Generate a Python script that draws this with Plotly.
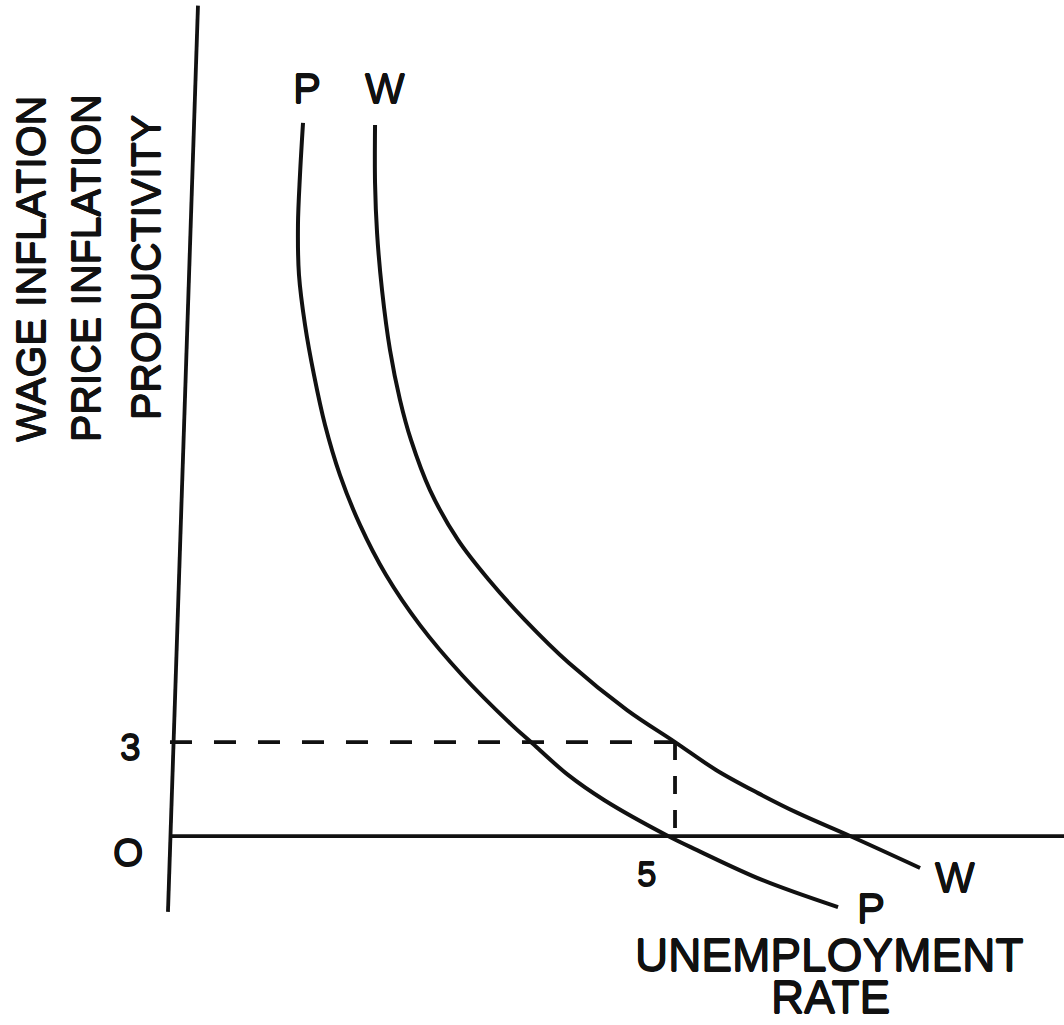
import plotly.graph_objects as go

# ---- data (unemployment rate %, inflation %) ----
p_x = [1.317, 1.287, 1.267, 1.277, 1.337, 1.426, 1.535, 1.683, 1.881, 2.139, 2.475, 2.891, 3.386, 3.584, 3.941, 4.297, 4.931, 5.218, 5.861, 6.614]
p_y = [22.76, 21.10, 19.50, 17.91, 16.31, 14.71, 13.12, 11.52, 9.93, 8.33, 6.73, 5.14, 3.54, 2.97, 1.95, 1.15, 0.00, -0.45, -1.40, -2.27]

w_x = [2.030, 2.030, 2.050, 2.099, 2.178, 2.277, 2.386, 2.574, 2.851, 3.158, 3.515, 3.950, 4.525, 5.000, 5.406, 5.822, 6.218, 6.733, 7.426]
w_y = [22.69, 20.84, 19.25, 17.43, 15.51, 13.92, 12.64, 11.04, 9.45, 8.17, 6.89, 5.52, 4.02, 3.00, 2.11, 1.37, 0.73, 0.00, -1.02]

ref_u = 5      # unemployment rate marked
ref_pi = 3     # wage inflation marked

# axes drawn as lines (vertical axis is slightly slanted in the scan)
yaxis_x = [0.277, -0.02]
yaxis_y = [26.5, -2.42]
xaxis_x = [0, 8.86]
xaxis_y = [0, 0]

INK = "#111111"
FONT = "Liberation Sans, Arial, Helvetica, sans-serif"
SHADOW = "0.6px 0 0 #111, -0.6px 0 0 #111, 0 0.6px 0 #111, 0 -0.6px 0 #111"

fig = go.Figure()

fig.add_trace(go.Scatter(x=yaxis_x, y=yaxis_y, mode="lines",
                         line=dict(color=INK, width=3.8), hoverinfo="skip"))
fig.add_trace(go.Scatter(x=xaxis_x, y=xaxis_y, mode="lines",
                         line=dict(color=INK, width=3.8), hoverinfo="skip"))

# dashed guides
fig.add_trace(go.Scatter(x=[0, ref_u], y=[ref_pi, ref_pi], mode="lines",
                         line=dict(color=INK, width=3.8, dash="22px,22px"), hoverinfo="skip"))
fig.add_trace(go.Scatter(x=[ref_u, ref_u], y=[ref_pi, 0], mode="lines",
                         line=dict(color=INK, width=3.8, dash="18px,16px"), hoverinfo="skip"))

fig.add_trace(go.Scatter(x=p_x, y=p_y, mode="lines", name="P",
                         line=dict(color=INK, width=4, shape="spline", smoothing=1.0)))
fig.add_trace(go.Scatter(x=w_x, y=w_y, mode="lines", name="W",
                         line=dict(color=INK, width=4, shape="spline", smoothing=1.0)))

ann = []
def lab(text, x, y, size, xref="x", yref="y", angle=0, yanchor="middle"):
    ann.append(dict(text=text, x=x, y=y, xref=xref, yref=yref, showarrow=False,
                    xanchor="center", yanchor=yanchor, textangle=angle,
                    font=dict(family=FONT, size=size, color=INK, shadow=SHADOW)))

# curve labels
lab("P", 1.356, 23.87, 42)
lab("W", 2.129, 23.87, 42)
lab("W", 7.77, -1.31, 42)
lab("P", 6.94, -2.30, 42)
# tick-like labels
lab("3", -0.396, 2.81, 37)
lab("O", -0.416, -0.51, 39)
lab("5", 4.72, -1.21, 35)

W, H = 1064, 1025
# axis titles (paper coordinates)
lab("UNEMPLOYMENT", 829 / W, 1 - 955 / H, 46, "paper", "paper")
lab("RATE", 830 / W, 0.0, 46, "paper", "paper", yanchor="bottom")
lab("WAGE INFLATION", 31 / W, 1 - 269 / H, 41, "paper", "paper", -90)
lab("PRICE INFLATION", 86 / W, 1 - 268 / H, 41, "paper", "paper", -90)
lab("PRODUCTIVITY", 146 / W, 1 - 268 / H, 41, "paper", "paper", -90)

fig.update_layout(
    width=W, height=H,
    margin=dict(l=0, r=0, t=0, b=0),
    paper_bgcolor="white", plot_bgcolor="white",
    showlegend=False,
    xaxis=dict(range=[-1.683, 8.851], visible=False, fixedrange=True),
    yaxis=dict(range=[-6.03, 26.68], visible=False, fixedrange=True),
    annotations=ann,
)

fig.write_html("out.html", config={"displayModeBar": False},
               post_script="document.body.style.margin='0px';")
